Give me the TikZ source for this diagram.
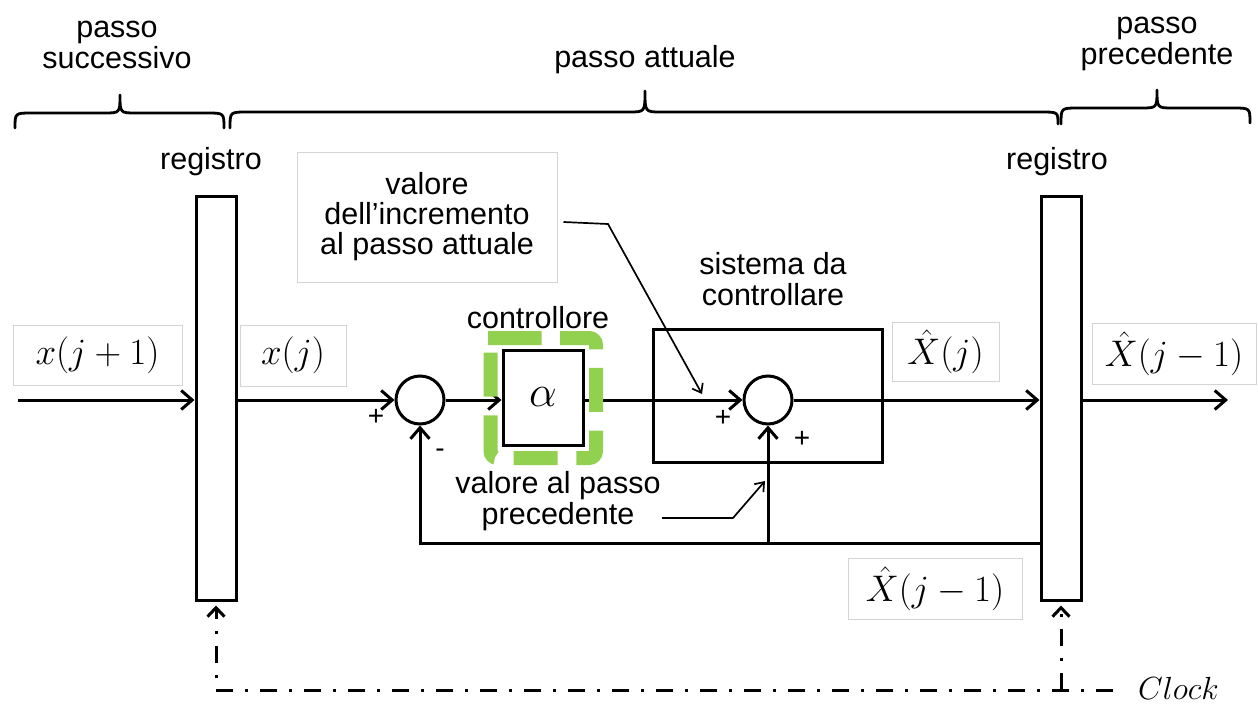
\RequirePackage{fix-cm}
\documentclass[tikz,border=0pt]{standalone}
\usepackage[no-math]{fontspec}
\setmainfont{Liberation Sans}
\usetikzlibrary{arrows.meta,calc}
\definecolor{hlgreen}{RGB}{146,208,80}
\definecolor{boxgray}{RGB}{212,212,212}
\begin{document}
\begin{tikzpicture}[x=1pt,y=-1pt,
  wire/.style={line width=3pt},
  arr/.style={wire,-{Straight Barb[length=11pt,width=19pt]}},
  thinarr/.style={line width=1.7pt,-{Straight Barb[length=8pt,width=12pt]}},
  lbl/.style={font=\fontsize{30.5}{31}\selectfont, align=center, inner sep=0pt},
  sign/.style={font=\fontsize{28}{28}\selectfont, inner sep=0pt},
  mathlbl/.style={draw=boxgray, line width=0.9pt, fill=white, inner sep=0pt, font=\fontsize{37}{40}\selectfont},
  regbox/.style={draw, line width=3pt, minimum width=40pt, minimum height=404pt, inner sep=0pt},
  sumnode/.style={draw, circle, line width=3pt, minimum size=48pt, inner sep=0pt},
  blockbox/.style={draw, line width=3pt, inner sep=0pt},
  bracepath/.style={line width=2.8pt, line join=round, line cap=round},
  clockline/.style={line width=3pt, dash pattern=on 17pt off 12pt on 3pt off 12pt},
]
\useasboundingbox (0,0) rectangle (1258,704);

% braces
\draw[bracepath] (15,128) .. controls (15,113) .. (32,113) -- (104,113) .. controls (120,113) .. (120,95) .. controls (120,113) .. (136,113) -- (207,113) .. controls (224,113) .. (224,128);
\draw[bracepath] (230,128) .. controls (230,112) .. (247,112) -- (629,112) .. controls (645,112) .. (645,91) .. controls (645,112) .. (661,112) -- (1041,112) .. controls (1058,112) .. (1058,124);
\draw[bracepath] (1061,124) .. controls (1061,108) .. (1078,108) -- (1141,108) .. controls (1157,108) .. (1157,90) .. controls (1157,108) .. (1173,108) -- (1233,108) .. controls (1250,108) .. (1250,123);

\node[lbl, anchor=base] (tsucc) at (117,68) {passo\\successivo};
\node[lbl, anchor=base] (tatt) at (645,67) {passo attuale};
\node[lbl, anchor=base] (tprecR) at (1157,64) {passo\\precedente};
\node[lbl, anchor=base] (tregL) at (211,169) {registro};
\node[lbl, anchor=base] (tregR) at (1057,169) {registro};

% registers
\node[regbox] (lreg) at (216,398) {};
\node[regbox] (rreg) at (1061,398) {};

% blocks
\node[blockbox, minimum width=229pt, minimum height=133pt] (sys) at (767.5,395.5) {};
\node[sumnode] (s1) at (420,400) {};
\node[sumnode] (s2) at (768,400) {};
\node[blockbox, minimum width=80pt, minimum height=95pt, font=\fontsize{44}{46}\selectfont] (alpha) at (543,397.5) {$\alpha$};

% signal path
\coordinate (in) at (18,400);
\coordinate (out) at (1228,400);
\coordinate (fb) at (768,543);
\draw[arr] (in) -- (in -| lreg.west);
\draw[arr] (lreg.east |- s1.west) -- (s1.west);
\draw[arr] (s1.east) -- (alpha.west |- s1.east);
\draw[arr] (alpha.east |- s2.west) -- (s2.west);
\draw[arr] (s2.east) -- (rreg.west |- s2.east);
\draw[arr] (rreg.east |- out) -- (out);
\draw[arr] (rreg.west |- fb) -- (s1.south |- fb) -- (s1.south);
\draw[arr] (fb) -- (s2.south);

% signs
\node[sign] (p1) at (376,417) {+};
\node[sign] (m1) at (440,453) {-};
\node[sign] (p2) at (723,418) {+};
\node[sign] (p3) at (802,439) {+};

% green highlight
\draw[hlgreen, line width=14pt, rounded corners=7pt, dash pattern=on 44pt off 18.7pt, dash phase=4.5pt] (495,338) -- (596,338) -- (596,458) -- (490.5,458) -- (490.5,338) -- cycle;

% labels
\node[lbl, anchor=base] (tctrl) at (538,328) {controllore};
\node[lbl, anchor=base] (tsys) at (773,305) {sistema da\\controllare};
\node[lbl, anchor=base] (tprev) at (558,524) {valore al passo\\precedente};

% annotation
\node[draw=boxgray, line width=1pt, minimum width=260pt, minimum height=130pt, inner sep=0pt, align=center, font=\fontsize{30.5}{30}\selectfont] (annot) at (427,217) {valore\\dell’incremento\\al passo attuale};
\coordinate (a1) at (608,224);
\coordinate (a2) at (702,394);
\draw[thinarr] ($(annot.east)+(6,5)$) -- (a1) -- (a2);
\coordinate (b0) at (662,518);
\coordinate (b1) at (733,518);
\coordinate (b2) at (765,481);
\draw[thinarr] (b0) -- (b1) -- (b2);

% math labels
\node[mathlbl, minimum width=169pt, minimum height=60pt] (lxj1) at (97.5,355) {$x(j+1)$};
\node[mathlbl, minimum width=106pt, minimum height=61pt] (lxj) at (293,355.5) {$x(j)$};
\node[mathlbl, minimum width=107pt, minimum height=59pt] (lXj) at (945.5,351.5) {$\hat{X}(j)$};
\node[mathlbl, minimum width=164pt, minimum height=61pt] (lXjm) at (1174,353.5) {$\hat{X}(j-1)$};
\node[mathlbl, minimum width=174pt, minimum height=61pt] (lXfb) at (935,588.5) {$\hat{X}(j-1)$};

% clock
\coordinate (clkE) at (1113,690);
\draw[clockline, -{Straight Barb[length=9pt,width=17pt]}, shorten >=4pt] (clkE) -- (lreg.south |- clkE) -- (lreg.south);
\draw[clockline, -{Straight Barb[length=9pt,width=17pt]}, shorten >=4pt] (rreg.south |- clkE) -- (rreg.south);
\node[anchor=west, inner sep=0pt, font=\fontsize{32}{32}\selectfont] (clk) at (1138,688) {$Clock$};
\end{tikzpicture}
\end{document}
